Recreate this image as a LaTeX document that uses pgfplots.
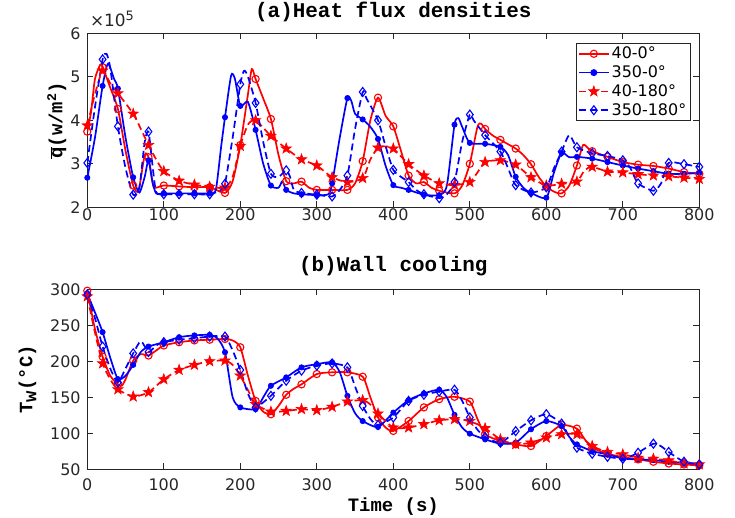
\documentclass[border=0pt]{standalone}
\usepackage{pgfplots}
\pgfplotsset{compat=1.18}
\usepackage{pgfplotstable}
\usepackage{fontspec}
\setmainfont{DejaVu Sans}
\setmonofont{Liberation Mono}
\usetikzlibrary{plotmarks}
\definecolor{axgray}{RGB}{38,38,38}

\pgfdeclareplotmark{pstar}{%
  \pgfpathmoveto{\pgfpointpolar{90}{\pgfplotmarksize}}%
  \pgfpathlineto{\pgfpointpolar{126}{0.4\pgfplotmarksize}}%
  \pgfpathlineto{\pgfpointpolar{162}{\pgfplotmarksize}}%
  \pgfpathlineto{\pgfpointpolar{198}{0.4\pgfplotmarksize}}%
  \pgfpathlineto{\pgfpointpolar{234}{\pgfplotmarksize}}%
  \pgfpathlineto{\pgfpointpolar{270}{0.4\pgfplotmarksize}}%
  \pgfpathlineto{\pgfpointpolar{306}{\pgfplotmarksize}}%
  \pgfpathlineto{\pgfpointpolar{342}{0.4\pgfplotmarksize}}%
  \pgfpathlineto{\pgfpointpolar{18}{\pgfplotmarksize}}%
  \pgfpathlineto{\pgfpointpolar{54}{0.4\pgfplotmarksize}}%
  \pgfpathclose
  \pgfusepathqfillstroke}

% ---------- (a) heat flux densities, units of 1e5 W/m^2 ----------
\pgfplotstableread{
t q
0 3.74
5 4.2
10 4.95
17 5.28
20 5.22
30 4.75
40 4.26
50 3.3
60 2.5
67 2.38
75 3.2
80 3.15
86 2.5
90 2.45
100 2.5
120 2.48
140 2.46
160 2.46
180 2.33
190 2.6
200 3.43
210 4.6
215 5.18
220 4.95
230 4.5
240 4.03
250 3.2
260 2.6
270 2.55
280 2.59
290 2.45
300 2.4
320 2.4
340 2.4
350 2.55
360 3.06
370 4.0
380 4.52
390 4.1
400 3.86
410 3.3
420 2.73
430 2.55
440 2.58
450 2.45
460 2.38
480 2.32
490 2.5
500 3.0
510 3.85
515 3.92
520 3.8
530 3.65
540 3.55
550 3.45
560 3.35
570 3.2
580 2.99
590 2.7
600 2.48
610 2.36
620 2.32
630 2.5
640 2.96
648 3.43
655 3.35
660 3.29
680 3.16
700 3.04
720 2.98
740 2.95
760 2.89
780 2.81
800 2.77
}\qRA

\pgfplotstableread{
t q
0 2.68
10 3.6
20 4.79
27 5.3
35 4.95
40 4.73
50 3.6
60 2.69
68 2.34
75 2.7
80 3.08
85 2.6
90 2.32
100 2.32
120 2.32
140 2.32
160 2.32
168 2.4
175 3.4
180 4.07
188 5.03
193 4.95
200 4.33
210 4.42
220 3.78
230 3.0
240 2.5
250 2.45
255 2.6
260 2.4
270 2.32
280 2.3
300 2.28
315 2.3
320 2.55
330 3.6
340 4.51
345 4.45
350 4.15
360 4.02
370 3.85
380 3.57
390 2.95
400 2.51
410 2.45
420 2.40
440 2.29
460 2.28
470 2.5
480 3.9
485 4.05
490 3.85
500 3.48
520 3.46
540 3.39
550 3.2
560 2.7
570 2.45
580 2.33
600 2.22
610 2.8
620 3.25
630 3.15
640 3.16
660 3.12
680 3.04
700 2.96
720 2.89
740 2.83
760 2.77
780 2.77
800 2.79
}\qBA

\pgfplotstableread{
t q
0 3.88
10 4.6
20 5.14
30 4.85
40 4.62
60 4.15
70 3.8
80 3.43
90 3.1
100 2.83
120 2.61
140 2.52
160 2.47
180 2.45
190 2.7
200 3.41
210 3.9
220 4.0
240 3.64
260 3.35
280 3.1
300 2.96
320 2.69
340 2.58
360 2.67
370 3.1
380 3.37
390 3.4
400 3.35
420 2.99
440 2.73
460 2.55
480 2.51
500 2.58
510 2.8
520 3.04
540 3.08
560 2.98
580 2.69
600 2.50
620 2.54
640 2.59
650 2.85
660 2.93
680 2.82
700 2.80
720 2.76
740 2.73
760 2.71
780 2.68
800 2.65
}\qRB

\pgfplotstableread{
t q
0 3.02
10 4.3
20 5.4
25 5.53
30 5.2
40 3.86
50 2.9
60 2.29
68 2.45
75 3.5
80 3.74
85 3.0
90 2.35
100 2.3
120 2.3
140 2.3
160 2.3
175 2.4
180 2.54
190 3.6
200 4.83
205 5.14
210 5.0
220 4.4
230 3.5
240 2.77
250 2.7
260 2.85
265 2.7
270 2.4
280 2.33
300 2.29
320 2.25
330 2.4
340 2.73
350 3.8
360 4.65
365 4.5
380 4.0
390 3.4
400 2.86
410 2.7
420 2.58
430 2.4
440 2.3
460 2.21
470 2.3
480 2.58
490 3.5
500 4.13
505 4.0
520 3.66
540 3.28
550 2.9
560 2.51
580 2.34
600 2.46
610 2.9
620 3.28
630 3.66
640 3.38
660 3.24
680 3.18
700 3.08
710 2.9
720 2.55
740 2.38
750 2.55
760 3.02
780 2.99
800 2.93
}\qBB

% ---------- (b) wall temperature, deg C ----------
\pgfplotstableread{
t T
0 298
10 245
20 206.5
30 180
40 168
45 166
50 175
60 201
70 210
80 208
90 215
100 222
120 226.5
140 229
160 230
180 231
190 229
200 219.5
210 180
220 145
230 130
240 126.5
250 138
260 153.5
270 162
280 168
300 182.3
320 184.7
340 184.7
360 178.6
370 150
380 122
390 108
400 103.3
420 117
440 136
460 147.4
480 150.7
500 144
510 120
520 98.6
540 89.3
560 84.7
580 82.3
600 96.3
620 111.6
640 106.5
650 92
660 80
680 71.6
700 67
720 63.7
740 60.5
760 58
780 56.7
800 55.3
}\tRA

\pgfplotstableread{
t T
0 294
10 268
20 240.5
30 205
40 175.3
50 180
60 195
70 213
80 220.5
100 226.5
120 233.5
140 236
160 236.7
170 232
180 212.6
190 150
200 136
220 133.5
230 150
240 166
260 177.7
280 191.6
300 196
320 198.6
330 185
340 152
350 128
360 117
380 108.8
400 128.8
420 146
440 155.3
460 160.5
470 150
480 125.6
490 108
500 99.5
520 91.6
540 85.6
560 87
580 105.6
600 117
620 110
630 95
640 84.6
660 75.3
680 70.7
700 65
720 63.7
740 62.8
760 60.5
780 59
800 57.7
}\tBA

\pgfplotstableread{
t T
0 290
10 240
20 197
30 175
40 161
60 151
80 157
100 175
120 188
140 195
160 200
180 201
190 195
200 180
210 160
220 140.5
240 130
260 131
280 133.5
300 132
320 136.7
340 144
360 146
370 140
380 127.4
400 108
420 108
440 112.6
460 118
480 119.5
500 117
520 107
540 91.6
560 84.7
580 87
600 94
620 98.6
640 98.6
660 82.3
680 74
700 70.7
720 66
740 64.6
760 62.3
780 58
800 56.7
}\tRB

\pgfplotstableread{
t T
0 293
10 260
20 220.5
30 190
40 170.7
50 190
60 211
70 228
80 213
90 222
100 226.5
120 230
140 232
160 234.4
180 234.4
190 215
200 188
210 155
220 136
230 143
240 152
260 173
280 187
300 194
320 197
340 191.6
350 165
360 138
370 120
380 111.6
400 122
420 145
440 153.5
460 158
480 160.5
490 145
500 122
510 105
520 95
540 87
560 103
580 118
600 126.5
620 113.5
630 95
640 80
660 71.6
680 67.4
700 64.6
710 68
720 73
740 85.6
750 82
760 74
780 60.5
800 56.7
}\tBB

\pgfplotsset{
  common/.style={
    scale only axis, width=612bp,
    xmin=0, xmax=800, xtick={0,100,...,800},
    axis line style={draw=axgray, line width=1.1bp},
    every tick/.style={draw=axgray, line width=1.1bp},
    major tick length=6bp,
    tick label style={font=\fontsize{16}{19}\selectfont, text=axgray},
    /pgf/number format/assume math mode=true,
    yticklabel style={anchor=east, inner sep=0pt, xshift=-6.5bp},
    xticklabel style={anchor=base, inner sep=0pt},
    title style={font=\ttfamily\bfseries\fontsize{21}{25}\selectfont, anchor=base, at={(axis description cs:0.5,1)}},
    label style={font=\ttfamily\bfseries\fontsize{19}{23}\selectfont},
    ylabel style={anchor=base},
    clip=true,
  },
  LRA/.style={red, solid, line width=1.7bp},
  MRA/.style={red, mark=o, mark size=3.6bp, line width=1.1bp, mark options={solid}},
  LBA/.style={blue, solid, line width=1.7bp},
  MBA/.style={blue, mark=*, mark size=2.6bp, line width=0.8bp, mark options={solid}},
  LRB/.style={red, dash pattern=on 7bp off 4bp, line width=1.7bp},
  MRB/.style={red, mark=pstar, mark size=5.5bp, line width=0.6bp, mark options={solid, fill=red}},
  LBB/.style={blue, dash pattern=on 7bp off 4bp, line width=1.7bp},
  MBB/.style={blue, mark=diamond, mark size=4.5bp, line width=1.1bp, mark options={solid}},
  markfilter/.style={only marks, forget plot, x filter/.expression={mod(x,20)==0 ? x : nan}, unbounded coords=discard},
}

\newcommand\drawseries[3]{%
  \addplot[#1, smooth, tension=0.4, forget plot] table {#3};
  \addplot[#2, markfilter] table {#3};
}

\begin{document}
\begin{tikzpicture}
\useasboundingbox (0bp,0bp) rectangle (735bp,518bp);

\begin{axis}[common, name=top,
  at={(87.3bp,310.7bp)}, anchor=south west, height=174bp,
  ymin=2, ymax=6, ytick={2,3,4,5,6},
  xticklabel style={yshift=-13.4bp},
  title={(a)Heat flux densities}, title style={yshift=9.5bp},
  ylabel={$\overline{\hbox{q}}$(w/m\textsuperscript{2})},
  ylabel style={at={(axis description cs:-0.0408,0.5)}},
  legend style={at={(axis description cs:1,1)}, anchor=north east, xshift=-8.6bp, yshift=-9.4bp,
    font=\fontsize{16}{19}\selectfont, draw=axgray, line width=0.9bp, inner xsep=2bp, inner ysep=2bp,
    row sep=1.5bp, cells={anchor=west}},
  legend image code/.code={\draw[mark repeat=2,mark phase=2,#1] plot coordinates {(0bp,0bp) (15bp,0bp) (30bp,0bp)};},
]
\drawseries{LRA}{MRA}{\qRA}
\drawseries{LBA}{MBA}{\qBA}
\drawseries{LRB}{MRB}{\qRB}
\drawseries{LBB}{MBB}{\qBB}
\addlegendimage{LRA, mark=o, mark size=3.6bp, mark options={solid, line width=1.1bp}}
\addlegendimage{LBA, mark=*, mark size=2.6bp, mark options={solid}}
\addlegendimage{LRB, mark=pstar, mark size=5.5bp, mark options={solid, fill=red, line width=0.6bp}}
\addlegendimage{LBB, mark=diamond, mark size=4.5bp, mark options={solid, line width=1.1bp}}
\legend{40-0°, 350-0°, 40-180°, 350-180°}
\end{axis}
\node[anchor=base west, inner sep=0pt, text=axgray, font=\fontsize{17}{20}\selectfont] at ([xshift=2.5bp, yshift=6.6bp]top.north west) {×10\raisebox{6bp}{\fontsize{13}{15}\selectfont 5}};

\begin{axis}[common,
  at={(87.3bp,48.7bp)}, anchor=south west, height=180bp,
  ymin=50, ymax=300, ytick={50,100,...,300},
  xticklabel style={yshift=-21.4bp},
  title={(b)Wall cooling}, title style={yshift=12bp},
  xlabel={Time (s)},
  xlabel style={at={(axis description cs:0.5,0)}, anchor=base, yshift=-42bp},
  ylabel={T$_{\hbox{w}}$(°C)},
  ylabel style={at={(axis description cs:-0.0899,0.5)}},
]
\drawseries{LRA}{MRA}{\tRA}
\drawseries{LBA}{MBA}{\tBA}
\drawseries{LRB}{MRB}{\tRB}
\drawseries{LBB}{MBB}{\tBB}
\end{axis}
\end{tikzpicture}
\end{document}
